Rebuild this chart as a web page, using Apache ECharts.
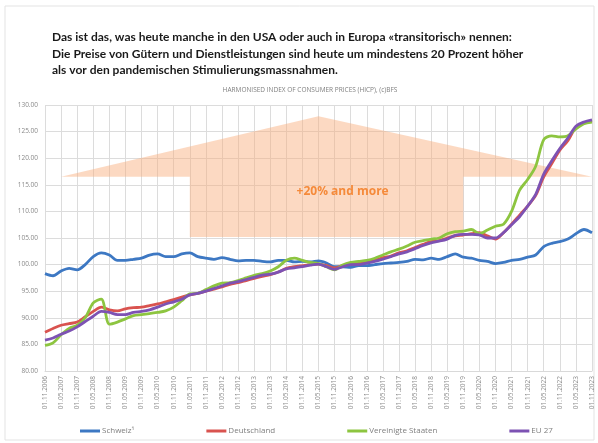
<!DOCTYPE html>
<html>
<head>
<meta charset="utf-8">
<script src="https://cdn.jsdelivr.net/npm/echarts@6/dist/echarts.min.js"></script>
<style>
  html, body { margin: 0; padding: 0; background: #fff; }
  #main { width: 598px; height: 443px; }
</style>
</head>
<body>
<div id="main"></div>
<script>
// quarterly points, labels shown every half year
var dates = ['01.11.2006','01.02.2007','01.05.2007','01.08.2007','01.11.2007','01.02.2008','01.05.2008','01.08.2008',
  '01.11.2008','01.02.2009','01.05.2009','01.08.2009','01.11.2009','01.02.2010','01.05.2010','01.08.2010',
  '01.11.2010','01.02.2011','01.05.2011','01.08.2011','01.11.2011','01.02.2012','01.05.2012','01.08.2012',
  '01.11.2012','01.02.2013','01.05.2013','01.08.2013','01.11.2013','01.02.2014','01.05.2014','01.08.2014',
  '01.11.2014','01.02.2015','01.05.2015','01.08.2015','01.11.2015','01.02.2016','01.05.2016','01.08.2016',
  '01.11.2016','01.02.2017','01.05.2017','01.08.2017','01.11.2017','01.02.2018','01.05.2018','01.08.2018',
  '01.11.2018','01.02.2019','01.05.2019','01.08.2019','01.11.2019','01.02.2020','01.05.2020','01.08.2020',
  '01.11.2020','01.02.2021','01.05.2021','01.08.2021','01.11.2021','01.02.2022','01.05.2022','01.08.2022',
  '01.11.2022','01.02.2023','01.05.2023','01.08.2023','01.11.2023'];

var schweiz = [98.3,97.9,98.8,99.3,99.0,100.0,101.5,102.2,101.8,100.8,100.8,101.0,101.2,101.8,102.0,101.5,
  101.5,102.0,102.2,101.5,101.2,101.0,101.3,101.0,100.7,100.8,100.8,100.6,100.5,100.8,100.8,100.5,
  100.6,100.5,100.7,100.3,99.6,99.6,99.5,99.8,99.8,100.0,100.2,100.3,100.4,100.6,101.0,100.9,
  101.2,101.0,101.5,102.0,101.4,101.2,100.8,100.6,100.2,100.4,100.8,101.0,101.4,101.8,103.4,104.0,
  104.3,104.8,105.8,106.6,106.0];

var deutschland = [87.3,88.0,88.6,88.9,89.2,90.2,91.2,92.0,91.5,91.3,91.7,91.9,92.0,92.3,92.6,93.0,
  93.4,93.9,94.3,94.6,95.0,95.4,95.8,96.3,96.6,97.0,97.4,97.8,98.1,98.6,99.3,99.6,
  99.8,100.0,100.1,99.8,99.4,99.8,100.1,100.3,100.5,100.8,101.3,101.6,102.2,102.6,103.2,103.8,
  104.3,104.5,105.0,105.4,105.6,105.8,106.0,105.4,104.8,106.0,107.6,109.3,111.0,113.0,116.5,119.0,
  121.5,123.3,125.8,126.6,127.0];

var usa = [84.8,85.3,86.8,88.0,88.6,90.0,92.8,93.5,88.8,89.2,89.8,90.4,90.6,90.8,91.0,91.3,
  92.0,93.2,94.5,94.6,95.3,96.0,96.5,96.6,97.0,97.5,98.0,98.3,98.8,99.6,100.8,101.2,
  100.8,100.4,100.2,99.6,99.0,99.9,100.4,100.6,100.8,101.2,101.8,102.4,102.9,103.5,104.2,104.5,
  104.8,105.0,105.8,106.2,106.3,106.6,105.8,106.5,107.2,107.6,110.0,114.0,116.0,118.5,123.5,124.2,
  124.0,124.2,125.5,126.5,126.8];

var eu27 = [85.8,86.2,86.9,87.5,88.3,89.3,90.3,91.2,91.0,90.6,90.6,91.0,91.2,91.5,92.0,92.6,
  93.0,93.5,94.3,94.6,95.0,95.5,96.0,96.5,96.8,97.2,97.6,98.0,98.2,98.6,99.2,99.4,
  99.6,99.9,100.1,99.6,99.1,99.6,100.0,100.0,100.3,100.6,101.0,101.5,102.0,102.4,103.0,103.6,
  104.1,104.4,104.8,105.5,105.7,105.7,105.6,105.0,105.0,106.0,107.5,109.0,111.0,113.2,117.0,119.5,
  121.8,123.8,126.0,126.8,127.2];

// the "+20%" arrow, in category index / index value
var arrowCat = [1.5, 34.4, 68, 51.6, 51.6, 18, 18];
var arrowVal = [116.5, 127.9, 116.5, 116.5, 105.2, 105.2, 116.5];
var arrowText = '+20% and more';

var myChart = echarts.init(document.getElementById('main'));

var option = {
  animation: false,
  backgroundColor: '#fff',
  title: [{
    text: 'Das ist das, was heute manche in den USA oder auch in Europa «transitorisch» nennen:\nDie Preise von Gütern und Dienstleistungen sind heute um mindestens 20 Prozent höher\nals vor den pandemischen Stimulierungsmassnahmen.',
    left: 47,
    top: 24,
    textStyle: { fontFamily: 'Lato', fontSize: 12, fontWeight: 'bold', color: '#1a1a1a', lineHeight: 16.5 }
  }, {
    text: 'HARMONISED INDEX OF CONSUMER PRICES (HICP), (c)BFS',
    left: 305,
    textAlign: 'center',
    top: 82,
    textStyle: { fontFamily: 'Open Sans', fontSize: 6.5, fontWeight: 'normal', color: '#7f7f7f' }
  }],
  graphic: [{
    type: 'rect',
    shape: { x: 5, y: 6, width: 589, height: 434 },
    style: { fill: 'none', stroke: '#e3e3e3', lineWidth: 1 },
    silent: true
  }],
  legend: {
    bottom: 3,
    left: 75,
    itemGap: 72,
    icon: 'rect',
    itemWidth: 20,
    itemHeight: 3,
    textStyle: { fontFamily: 'Open Sans', fontSize: 8, color: '#7f7f7f', padding: [0, 0, 0, -3] },
    data: ['Schweiz¹', 'Deutschland', 'Vereinigte Staaten', 'EU 27']
  },
  grid: { left: 45, right: 6, top: 105, bottom: 72 },
  xAxis: {
    type: 'category',
    data: dates,
    boundaryGap: false,
    axisLine: { lineStyle: { color: '#d9d9d9' } },
    axisTick: { show: false },
    axisLabel: { interval: 1, rotate: 90, fontSize: 6.5, color: '#8a8a8a', fontFamily: 'Open Sans', margin: 5 },
    splitLine: { show: true, interval: 1, lineStyle: { color: '#dcdcdc', width: 1 } }
  },
  yAxis: {
    type: 'value',
    min: 80,
    max: 130,
    interval: 5,
    axisLine: { show: false },
    axisTick: { show: false },
    axisLabel: {
      fontSize: 6.5, color: '#8a8a8a', fontFamily: 'Open Sans', margin: 7,
      formatter: function (v) { return v.toFixed(2); }
    },
    splitLine: { lineStyle: { color: '#dcdcdc', width: 1 } }
  },
  series: [
    {
      name: 'arrow',
      type: 'custom',
      silent: true,
      z: 1,
      data: [[0, 0]],
      renderItem: function (params, api) {
        var pts = arrowCat.map(function (c, i) { return api.coord([c, arrowVal[i]]); });
        var mid = api.coord([36.7, 113.8]);
        return {
          type: 'group',
          children: [{
            type: 'polygon',
            shape: { points: pts },
            style: { fill: 'rgba(248,170,120,0.45)' }
          }, {
            type: 'text',
            x: mid[0],
            y: mid[1],
            style: {
              text: arrowText, fill: '#f58a3a', fontFamily: 'Open Sans',
              fontSize: 12, fontWeight: 'bold', align: 'center', verticalAlign: 'middle'
            }
          }]
        };
      }
    },
    {
      name: 'Schweiz¹', type: 'line', data: schweiz, showSymbol: false, smooth: 0.3,
      lineStyle: { width: 2.8, color: '#3d78c3' }, itemStyle: { color: '#3d78c3' }, z: 3
    },
    {
      name: 'Deutschland', type: 'line', data: deutschland, showSymbol: false, smooth: 0.3,
      lineStyle: { width: 2.8, color: '#d9534f' }, itemStyle: { color: '#d9534f' }, z: 3
    },
    {
      name: 'Vereinigte Staaten', type: 'line', data: usa, showSymbol: false, smooth: 0.3,
      lineStyle: { width: 2.8, color: '#8dc540' }, itemStyle: { color: '#8dc540' }, z: 3
    },
    {
      name: 'EU 27', type: 'line', data: eu27, showSymbol: false, smooth: 0.3,
      lineStyle: { width: 2.8, color: '#7d52b3' }, itemStyle: { color: '#7d52b3' }, z: 3
    }
  ]
};

myChart.setOption(option);
</script>
</body>
</html>
